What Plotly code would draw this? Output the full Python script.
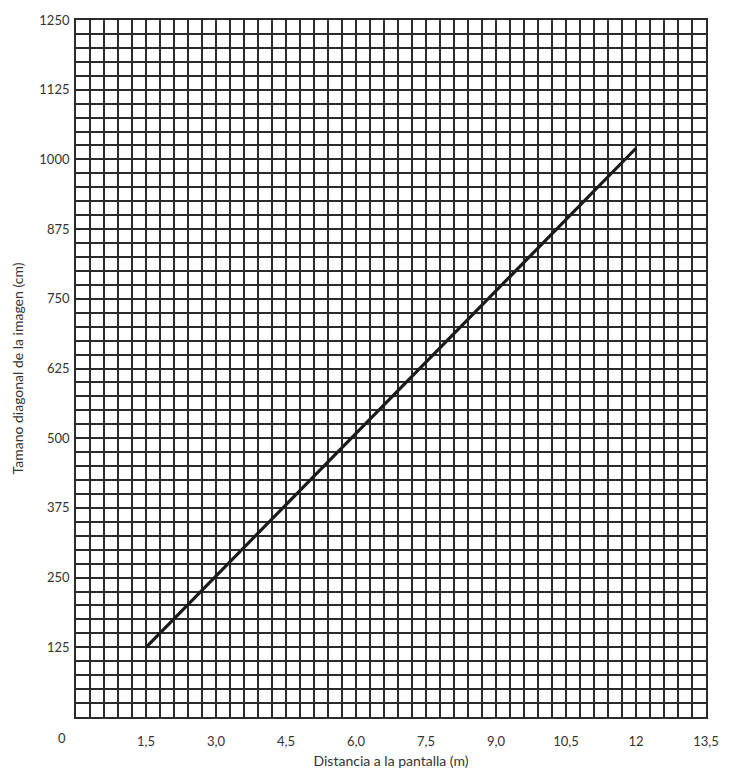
import plotly.graph_objects as go

# Data
distance_m = [1.5, 12.0]
diagonal_cm = [125, 1020]
x_tick_vals = [1.5, 3.0, 4.5, 6.0, 7.5, 9.0, 10.5, 12.0, 13.5]
x_tick_text = ["1,5", "3,0", "4,5", "6,0", "7,5", "9,0", "10,5", "12", "13,5"]
y_tick_vals = [125, 250, 375, 500, 625, 750, 875, 1000, 1125, 1250]
y_tick_text = [str(v) for v in y_tick_vals]

grid_col = "#2b2b2b"
font_fam = "Lato, 'Open Sans', sans-serif"

fig = go.Figure()
fig.add_trace(go.Scatter(x=distance_m, y=diagonal_cm, mode="lines",
                         line=dict(color="#1a1a1a", width=3.2),
                         showlegend=False, hoverinfo="skip"))

fig.update_layout(
    width=731, height=779,
    margin=dict(l=76, r=23, t=18, b=59),
    paper_bgcolor="white", plot_bgcolor="white",
    font=dict(family=font_fam, color="#333", size=13),
    xaxis=dict(range=[0, 13.5], tickvals=x_tick_vals, ticktext=x_tick_text,
               showgrid=True, gridcolor=grid_col, gridwidth=1.7,
               minor=dict(dtick=0.3, tick0=0, showgrid=True, gridcolor=grid_col, gridwidth=1.7),
               showline=True, linecolor=grid_col, linewidth=1.8, mirror=True,
               ticks="outside", ticklen=11, tickcolor="rgba(0,0,0,0)",
               zeroline=False,
               title=dict(text="Distancia a la pantalla (m)", font=dict(size=14, color="#333"), standoff=9)),
    yaxis=dict(range=[0, 1250], tickvals=y_tick_vals, ticktext=y_tick_text,
               showgrid=True, gridcolor=grid_col, gridwidth=1.7,
               minor=dict(dtick=25, tick0=0, showgrid=True, gridcolor=grid_col, gridwidth=1.7),
               showline=True, linecolor=grid_col, linewidth=1.8, mirror=True,
               ticks="outside", ticklen=2, tickcolor="rgba(0,0,0,0)",
               zeroline=False,
               title=dict(text="Tamano diagonal de la imagen (cm)", font=dict(size=14, color="#333"), standoff=12)),
)
fig.add_annotation(x=-0.022, y=-0.03, xref="paper", yref="paper", text="0", showarrow=False,
                   font=dict(size=13, color="#333", family=font_fam), xanchor="center", yanchor="middle")

fig.write_html("out.html")
